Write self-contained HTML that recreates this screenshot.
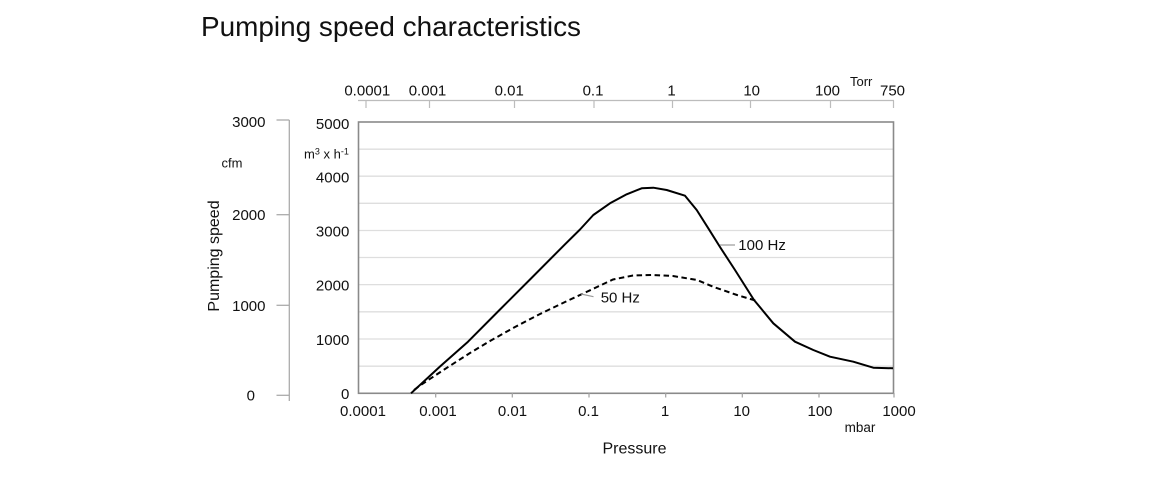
<!DOCTYPE html>
<html>
<head>
<meta charset="utf-8">
<style>
  html, body { margin:0; padding:0; background:#fff; }
  body { width:1160px; height:480px; overflow:hidden; }
  svg { display:block; }
  text { font-family: "Liberation Sans", "DejaVu Sans", sans-serif; fill:#111; }
</style>
</head>
<body>
<svg width="1160" height="480" viewBox="0 0 1160 480" xmlns="http://www.w3.org/2000/svg">
  <!-- Title -->
  <text x="201" y="36" font-size="27.5" textLength="380" lengthAdjust="spacingAndGlyphs">Pumping speed characteristics</text>

  <!-- Top Torr axis -->
  <line x1="358" y1="100.5" x2="894" y2="100.5" stroke="#bcbcbc" stroke-width="1.2"/>
  <g stroke="#bcbcbc" stroke-width="1.2">
    <line x1="366" y1="100.5" x2="366" y2="108"/>
    <line x1="429.5" y1="100.5" x2="429.5" y2="108"/>
    <line x1="514.5" y1="100.5" x2="514.5" y2="108"/>
    <line x1="594" y1="100.5" x2="594" y2="108"/>
    <line x1="672.5" y1="100.5" x2="672.5" y2="108"/>
    <line x1="750.5" y1="100.5" x2="750.5" y2="108"/>
    <line x1="830.5" y1="100.5" x2="830.5" y2="108"/>
    <line x1="893.5" y1="100.5" x2="893.5" y2="108"/>
  </g>
  <g font-size="15" text-anchor="middle">
    <text x="367.3" y="95.5">0.0001</text>
    <text x="427.5" y="95.5">0.001</text>
    <text x="509.2" y="95.5">0.01</text>
    <text x="593" y="95.5">0.1</text>
    <text x="671.5" y="95.5">1</text>
    <text x="751.7" y="95.5">10</text>
    <text x="827.5" y="95.5">100</text>
    <text x="892.5" y="95.5">750</text>
  </g>
  <text x="850" y="86" font-size="13">Torr</text>

  <!-- Gridlines -->
  <g stroke="#dedede" stroke-width="1.3">
    <line x1="359" y1="149.2" x2="893" y2="149.2"/>
    <line x1="359" y1="176.2" x2="893" y2="176.2"/>
    <line x1="359" y1="203.3" x2="893" y2="203.3"/>
    <line x1="359" y1="230.5" x2="893" y2="230.5"/>
    <line x1="359" y1="257.5" x2="893" y2="257.5"/>
    <line x1="359" y1="284.6" x2="893" y2="284.6"/>
    <line x1="359" y1="311.8" x2="893" y2="311.8"/>
    <line x1="359" y1="339" x2="893" y2="339"/>
    <line x1="359" y1="366.2" x2="893" y2="366.2"/>
  </g>

  <!-- Plot border -->
  <rect x="358.5" y="122" width="535" height="271.3" fill="none" stroke="#8a8a8a" stroke-width="1.6"/>

  <!-- Bottom ticks -->
  <g stroke="#a0a0a0" stroke-width="1.2">
    <line x1="435.7" y1="393" x2="435.7" y2="397.5"/>
    <line x1="512.3" y1="393" x2="512.3" y2="397.5"/>
    <line x1="589" y1="393" x2="589" y2="397.5"/>
    <line x1="665.7" y1="393" x2="665.7" y2="397.5"/>
    <line x1="742.3" y1="393" x2="742.3" y2="397.5"/>
    <line x1="819" y1="393" x2="819" y2="397.5"/>
    <line x1="894" y1="393" x2="894" y2="397.5"/>
  </g>
  <g font-size="15" text-anchor="middle">
    <text x="363" y="416">0.0001</text>
    <text x="438" y="416">0.001</text>
    <text x="512.5" y="416">0.01</text>
    <text x="588.5" y="416">0.1</text>
    <text x="665" y="416">1</text>
    <text x="741.7" y="416">10</text>
    <text x="820" y="416">100</text>
    <text x="899" y="416">1000</text>
  </g>
  <text x="860" y="432" font-size="13.5" text-anchor="middle">mbar</text>
  <text x="634.5" y="453.5" font-size="16" text-anchor="middle">Pressure</text>

  <!-- Left m3/h labels -->
  <g font-size="15" text-anchor="end">
    <text x="349.3" y="128.8">5000</text>
    <text x="349.3" y="182.6">4000</text>
    <text x="349.3" y="236.6">3000</text>
    <text x="349.3" y="290.7">2000</text>
    <text x="349.3" y="344.8">1000</text>
    <text x="349.3" y="398.8">0</text>
  </g>
  <text x="304" y="158.5" font-size="13">m<tspan font-size="9" dy="-4">3</tspan><tspan dy="4"> x h</tspan><tspan font-size="9" dy="-4">-1</tspan></text>

  <!-- cfm axis -->
  <g stroke="#ababab" stroke-width="1.3">
    <line x1="289.3" y1="120" x2="289.3" y2="401"/>
    <line x1="276.5" y1="120" x2="289.3" y2="120"/>
    <line x1="276.5" y1="214.7" x2="289.3" y2="214.7"/>
    <line x1="276.5" y1="305.3" x2="289.3" y2="305.3"/>
    <line x1="276.5" y1="395.3" x2="289.3" y2="395.3"/>
  </g>
  <g font-size="15" text-anchor="end">
    <text x="265.5" y="127">3000</text>
    <text x="265.5" y="220">2000</text>
    <text x="265.5" y="310.8">1000</text>
    <text x="255" y="400.5">0</text>
  </g>
  <text x="221.5" y="167.5" font-size="13">cfm</text>
  <text x="219" y="256" font-size="16" text-anchor="middle" transform="rotate(-90 219 256)">Pumping speed</text>

  <!-- 100 Hz solid curve -->
  <path d="M411,393.3 L440,366.5 L468,341.7 L500,309.5 L530,279.5 L565,244.3 L580,229.5 L593.3,215 L610,203.3 L626.7,194.3 L641.7,188.3 L653.3,187.7 L666.7,190 L685,195.7 L696.7,210 L708.3,228.3 L720,247 L735,270 L754,300 L773.3,323.3 L795,341.7 L813.3,350 L830,356.7 L853.3,361.7 L873.3,367.7 L893,368.3"
        fill="none" stroke="#000" stroke-width="2" stroke-linejoin="round"/>

  <!-- 50 Hz dashed curve -->
  <path d="M414,390 L420,385.5 L445,369 L470,353 L490,341 L515,327 L540,314 L565,302 L580,295 L597,287 L613,279.5 L633,275.5 L653,275 L673,276 L697,280 L713,286.7 L737,295 L757,301"
        fill="none" stroke="#000" stroke-width="2" stroke-dasharray="5.5 3.5"/>

  <!-- Labels -->
  <line x1="720" y1="245" x2="735" y2="245" stroke="#9a9a9a" stroke-width="1.2"/>
  <text x="738.3" y="249.8" font-size="15">100 Hz</text>
  <line x1="581" y1="294" x2="593.5" y2="296.7" stroke="#9a9a9a" stroke-width="1.2"/>
  <text x="600.7" y="302.5" font-size="15">50 Hz</text>
</svg>
</body>
</html>
